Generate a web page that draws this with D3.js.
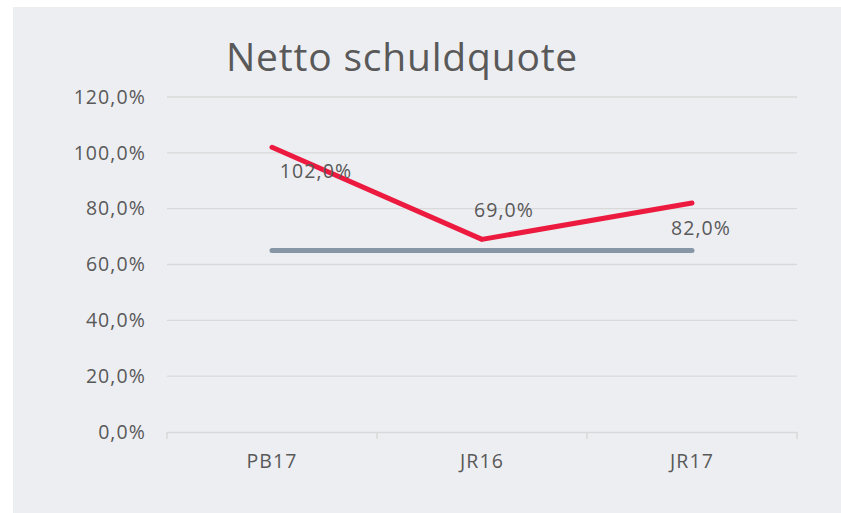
<!DOCTYPE html>
<html>
<head>
<meta charset="utf-8">
<script src="https://cdn.jsdelivr.net/npm/d3@7"></script>
<style>
  html, body { margin: 0; padding: 0; background: #ffffff; }
  svg { display: block; }
  text { font-family: "Open Sans", "Noto Sans", sans-serif; fill: #595959; }
</style>
</head>
<body>
<svg id="chart" width="841" height="513"></svg>
<script>
const title = "Netto schuldquote";
const categories = ["PB17", "JR16", "JR17"];
const quoteValues = [102.0, 69.0, 82.0];
const normValues = [65.0, 65.0, 65.0];
const yTicks = [0, 20, 40, 60, 80, 100, 120];

const W = 841, H = 513;
const svg = d3.select("#chart");

svg.append("rect").attr("x", 13).attr("y", 7).attr("width", W - 13).attr("height", H - 7).attr("fill", "#edeef2");

const margin = { left: 167, right: 44, top: 97, bottom: 81 };
const x = d3.scaleBand().domain(categories).range([margin.left, W - margin.right]).padding(0);
const y = d3.scaleLinear().domain([0, 120]).range([H - margin.bottom, margin.top]);
const fmt = v => d3.format(".1f")(v).replace(".", ",") + "%";
const FS = 19.5, LS = 1.1;

// gridlines
svg.append("g").selectAll("line").data(yTicks.filter(t => t > 0)).join("line")
  .attr("x1", margin.left).attr("x2", W - margin.right)
  .attr("y1", d => y(d)).attr("y2", d => y(d))
  .attr("stroke", "#d9d9d9").attr("stroke-width", 1.3);

// y axis
const yAxis = svg.append("g").attr("transform", `translate(${margin.left},0)`)
  .call(d3.axisLeft(y).tickValues(yTicks).tickFormat(fmt).tickSize(0).tickPadding(21));
yAxis.select(".domain").remove();
yAxis.selectAll("text").attr("font-size", FS).attr("letter-spacing", LS)
  .style("fill", "#595959").attr("font-family", "Open Sans");

// x axis
const xAxis = svg.append("g").attr("transform", `translate(0,${y(0)})`)
  .call(d3.axisBottom(x).tickSize(0).tickPadding(22));
xAxis.select(".domain").attr("stroke", "#d9d9d9").attr("stroke-width", 1.5);
xAxis.selectAll("text").attr("font-size", FS).attr("letter-spacing", LS)
  .style("fill", "#595959").attr("font-family", "Open Sans");
// boundary ticks
const bounds = categories.map(c => x(c)).concat([x(categories[categories.length - 1]) + x.bandwidth()]);
svg.append("g").selectAll("line").data(bounds).join("line")
  .attr("x1", d => d).attr("x2", d => d)
  .attr("y1", y(0)).attr("y2", y(0) + 7)
  .attr("stroke", "#d9d9d9").attr("stroke-width", 1.5);

const cx = c => x(c) + x.bandwidth() / 2;
const line = d3.line().x((d, i) => cx(categories[i])).y(d => y(d));

svg.append("path").datum(normValues).attr("d", line)
  .attr("fill", "none").attr("stroke", "#8696a7").attr("stroke-width", 5).attr("stroke-linecap", "round");
svg.append("path").datum(quoteValues).attr("d", line)
  .attr("fill", "none").attr("stroke", "#ec1a3f").attr("stroke-width", 5).attr("stroke-linecap", "round").attr("stroke-linejoin", "round");

// data labels (Excel-like placements)
const labelOffsets = [[44, 31], [22, -22], [9, 32]];
svg.append("g").selectAll("text").data(quoteValues).join("text")
  .attr("x", (d, i) => cx(categories[i]) + labelOffsets[i][0])
  .attr("y", (d, i) => y(d) + labelOffsets[i][1])
  .attr("text-anchor", "middle")
  .attr("font-size", FS).attr("letter-spacing", LS)
  .text(d => fmt(d));

svg.append("text").attr("x", 402).attr("y", 71).attr("text-anchor", "middle")
  .attr("font-size", 39).attr("letter-spacing", 0.8).text(title);
</script>
</body>
</html>
